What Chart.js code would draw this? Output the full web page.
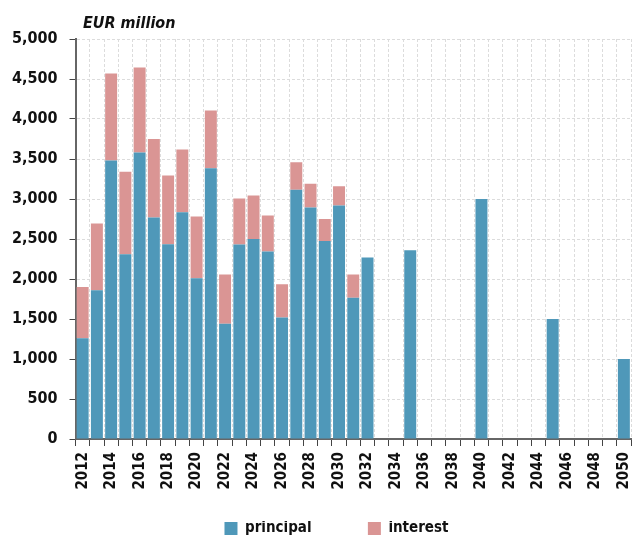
<!DOCTYPE html>
<html>
<head>
<meta charset="utf-8">
<script src="https://cdn.jsdelivr.net/npm/chart.js@4/dist/chart.umd.min.js"></script>
<style>
  html, body { margin: 0; padding: 0; background: #fff; }
  #wrap { width: 643px; height: 539px; }
</style>
</head>
<body>
<div id="wrap"><canvas id="chart"></canvas></div>
<script>
var years = ['2012','2013','2014','2015','2016','2017','2018','2019','2020','2021',
             '2022','2023','2024','2025','2026','2027','2028','2029','2030','2031',
             '2032','2033','2034','2035','2036','2037','2038','2039','2040','2041',
             '2042','2043','2044','2045','2046','2047','2048','2049','2050'];

var principal = [1260, 1860, 3480, 2310, 3580, 2770, 2435, 2835, 2010, 3385,
                 1440, 2430, 2500, 2345, 1520, 3115, 2895, 2475, 2920, 1765,
                 2270, 0, 0, 2360, 0, 0, 0, 0, 3000, 0,
                 0, 0, 0, 1500, 0, 0, 0, 0, 1000];

var interest = [640, 835, 1090, 1030, 1065, 980, 860, 785, 770, 720,
                615, 575, 545, 450, 415, 345, 295, 275, 240, 290,
                0, 0, 0, 0, 0, 0, 0, 0, 0, 0,
                0, 0, 0, 0, 0, 0, 0, 0, 0];

var seriesNames = ['principal', 'interest'];
var unitLabel = 'EUR million';

var font = "'Liberation Sans Narrow', 'DejaVu Sans Condensed', sans-serif";

// draws the unit text above the y axis
var unitPlugin = {
  id: 'unitText',
  afterDraw: function (chart) {
    var ctx = chart.ctx;
    ctx.save();
    ctx.font = 'italic bold 16px ' + font;
    ctx.fillStyle = '#111';
    ctx.textBaseline = 'alphabetic';
    ctx.fillText(unitLabel, 83, 28);
    ctx.restore();
  }
};

// legend sits a bit right of centre in the original
var legendShift = {
  id: 'legendShift',
  afterLayout: function (chart) {
    chart.legend.left += 21;
    chart.legend.right += 21;
  }
};

function makeChart() {
  var ctx = document.getElementById('chart').getContext('2d');

  new Chart(ctx, {
    type: 'bar',
    data: {
      labels: years,
      datasets: [
        {
          label: seriesNames[0],
          data: principal,
          backgroundColor: '#4f98b9',
          borderWidth: 0
        },
        {
          label: seriesNames[1],
          data: interest,
          backgroundColor: '#da9594',
          borderWidth: 0
        }
      ]
    },
    options: {
      responsive: true,
      maintainAspectRatio: false,
      animation: false,
      datasets: {
        bar: { barPercentage: 0.84, categoryPercentage: 1 }
      },
      layout: { padding: { top: 39, left: 0, right: 12, bottom: -7 } },
      scales: {
        x: {
          stacked: true,
          afterFit: function (scale) {
            scale.height = 82;
            scale.paddingLeft = 0;
            scale.paddingRight = 0;
          },
          grid: {
            color: '#dcdcdc',
            tickColor: '#444',
            tickLength: 7,
            lineWidth: 1
          },
          border: { color: '#666', width: 2, dash: [3, 2] },
          ticks: {
            autoSkip: false,
            maxRotation: 90,
            minRotation: 90,
            padding: 6,
            color: '#111',
            font: { family: font, size: 15, weight: 'bold' },
            callback: function (val, i) {
              return i % 2 === 0 ? years[i] : '';
            }
          }
        },
        y: {
          stacked: true,
          min: 0,
          max: 5000,
          grid: {
            color: '#dcdcdc',
            tickColor: '#444',
            tickLength: 6,
            lineWidth: 1
          },
          border: { color: '#666', width: 2, dash: [3, 2] },
          ticks: {
            stepSize: 500,
            padding: 12,
            color: '#111',
            font: { family: font, size: 16, weight: 'bold' },
            callback: function (v) { return v.toLocaleString('en-US'); }
          }
        }
      },
      plugins: {
        legend: {
          position: 'bottom',
          labels: {
            boxWidth: 13,
            boxHeight: 13,
            padding: 0,
            color: '#111',
            font: { family: font, size: 15, weight: 'bold' },
            generateLabels: function (chart) {
              var items = Chart.defaults.plugins.legend.labels.generateLabels(chart);
              items[0].text = items[0].text + '            ';
              return items;
            }
          }
        },
        tooltip: { enabled: false }
      }
    },
    plugins: [unitPlugin, legendShift]
  });
}

makeChart();
</script>
</body>
</html>
